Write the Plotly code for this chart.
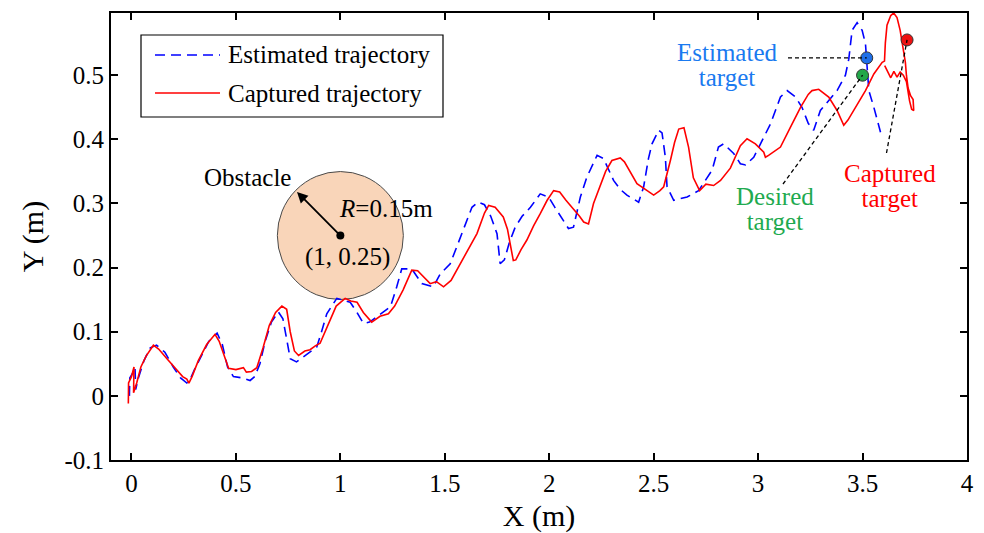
import plotly.graph_objects as go

# ---------------- data ----------------
cap_x = [-0.015, -0.014, 0.0, 0.012, 0.01, 0.025, 0.045, 0.07, 0.105, 0.13, 0.17, 0.21, 0.245, 0.265, 0.275,
         0.29, 0.32, 0.36, 0.40, 0.42, 0.445, 0.465, 0.50, 0.536, 0.55, 0.575, 0.60, 0.63, 0.66, 0.69, 0.72,
         0.743, 0.76, 0.78, 0.80, 0.83, 0.855, 0.88, 0.903, 0.94, 0.98, 1.023, 1.05, 1.08, 1.11, 1.15, 1.19,
         1.23, 1.26, 1.30, 1.342, 1.37, 1.40, 1.43, 1.46, 1.494, 1.53, 1.574, 1.614, 1.654, 1.69, 1.71, 1.741,
         1.78, 1.80, 1.815, 1.828, 1.84, 1.865, 1.893, 1.925, 1.957, 1.99, 2.021, 2.05, 2.08, 2.116, 2.145,
         2.165, 2.188, 2.212, 2.244, 2.27, 2.30, 2.34, 2.36, 2.388, 2.42, 2.46, 2.50, 2.53, 2.548, 2.58, 2.60,
         2.62, 2.645, 2.667, 2.69, 2.72, 2.75, 2.787, 2.82, 2.867, 2.915, 2.947, 2.987, 3.027, 3.035, 3.05,
         3.107, 3.155, 3.203, 3.24, 3.258, 3.29, 3.338, 3.378, 3.41, 3.43, 3.466, 3.514, 3.554, 3.594, 3.605,
         3.609, 3.617, 3.635, 3.649, 3.665, 3.68, 3.693, 3.705, 3.71, 3.718, 3.73, 3.742, 3.745, 3.735, 3.725,
         3.71, 3.695, 3.68, 3.665, 3.65, 3.635, 3.62, 3.606]
cap_y = [-0.012, 0.02, 0.03, 0.045, 0.005, 0.02, 0.045, 0.062, 0.079, 0.073, 0.058, 0.043, 0.03, 0.026, 0.02,
         0.03, 0.055, 0.08, 0.096, 0.085, 0.06, 0.043, 0.041, 0.044, 0.037, 0.038, 0.044, 0.075, 0.11, 0.13, 0.14,
         0.135, 0.10, 0.07, 0.063, 0.07, 0.072, 0.078, 0.082, 0.11, 0.14, 0.152, 0.148, 0.146, 0.13, 0.115, 0.124,
         0.128, 0.14, 0.165, 0.196, 0.195, 0.185, 0.175, 0.178, 0.17, 0.18, 0.206, 0.23, 0.253, 0.285, 0.297, 0.294,
         0.279, 0.26, 0.23, 0.211, 0.212, 0.228, 0.243, 0.265, 0.284, 0.305, 0.32, 0.318, 0.305, 0.292, 0.28,
         0.271, 0.268, 0.30, 0.328, 0.35, 0.367, 0.371, 0.365, 0.349, 0.331, 0.322, 0.313, 0.32, 0.326, 0.367, 0.395,
         0.416, 0.418, 0.388, 0.34, 0.32, 0.33, 0.328, 0.336, 0.355, 0.39, 0.401, 0.393, 0.38, 0.372, 0.375,
         0.388, 0.419, 0.45, 0.47, 0.476, 0.478, 0.466, 0.445, 0.422, 0.43, 0.45, 0.476, 0.502, 0.52, 0.522,
         0.55, 0.578, 0.593, 0.597, 0.59, 0.57, 0.545, 0.52, 0.50, 0.48, 0.468, 0.462, 0.445, 0.447, 0.46,
         0.49, 0.50, 0.505, 0.497, 0.506, 0.496, 0.506, 0.515]

est_x = [-0.01, -0.008, 0.005, 0.017, 0.02, 0.035, 0.06, 0.09, 0.12, 0.16, 0.20, 0.235, 0.265, 0.28, 0.30, 0.33,
         0.37, 0.41, 0.435, 0.46, 0.488, 0.53, 0.568, 0.59, 0.615, 0.64, 0.67, 0.703, 0.725, 0.745, 0.76, 0.79,
         0.83, 0.887, 0.91, 0.935, 0.983, 1.047, 1.08, 1.11, 1.14, 1.175, 1.24, 1.27, 1.294, 1.342, 1.39, 1.445,
         1.478, 1.526, 1.56, 1.59, 1.63, 1.66, 1.69, 1.72, 1.75, 1.765, 1.785, 1.81, 1.837, 1.87, 1.91, 1.957,
         1.997, 2.025, 2.053, 2.092, 2.116, 2.149, 2.18, 2.229, 2.26, 2.308, 2.34, 2.372, 2.428, 2.452, 2.475,
         2.492, 2.524, 2.54, 2.556, 2.564, 2.596, 2.66, 2.715, 2.78, 2.81, 2.835, 2.883, 2.915, 2.94, 2.979,
         3.019, 3.059, 3.107, 3.139, 3.179, 3.21, 3.24, 3.266, 3.298, 3.338, 3.378, 3.418, 3.434, 3.45, 3.474,
         3.498, 3.514, 3.522, 3.53, 3.554, 3.57, 3.586]
est_y = [0.0, 0.028, 0.035, 0.045, 0.01, 0.03, 0.055, 0.075, 0.079, 0.068, 0.045, 0.028, 0.02, 0.025, 0.04, 0.06,
         0.085, 0.098, 0.08, 0.045, 0.03, 0.028, 0.024, 0.03, 0.05, 0.085, 0.115, 0.131, 0.12, 0.085, 0.058, 0.053,
         0.062, 0.076, 0.10, 0.128, 0.152, 0.146, 0.13, 0.113, 0.115, 0.123, 0.139, 0.17, 0.198, 0.198, 0.175, 0.17,
         0.19, 0.206, 0.235, 0.263, 0.294, 0.302, 0.298, 0.28, 0.253, 0.206, 0.212, 0.24, 0.263, 0.28, 0.294, 0.315,
         0.31, 0.295, 0.281, 0.261, 0.263, 0.31, 0.341, 0.375, 0.37, 0.336, 0.322, 0.313, 0.302, 0.326, 0.37,
         0.393, 0.414, 0.41, 0.372, 0.326, 0.305, 0.31, 0.32, 0.352, 0.388, 0.393, 0.378, 0.362, 0.36, 0.372,
         0.398, 0.424, 0.466, 0.476, 0.466, 0.45, 0.425, 0.414, 0.445, 0.461, 0.476, 0.50, 0.525, 0.57, 0.582,
         0.57, 0.549, 0.512, 0.476, 0.45, 0.43, 0.411]

obstacle_center = (1.0, 0.25)
obstacle_label = "(1, 0.25)"
radius_label = "<i>R</i>=0.15m"

desired_target = (3.5, 0.5)
estimated_target = (3.52, 0.527)
captured_target = (3.713, 0.555)

x_ticks = [0, 0.5, 1, 1.5, 2, 2.5, 3, 3.5, 4]
x_ticktext = ["0", "0.5", "1", "1.5", "2", "2.5", "3", "3.5", "4"]
y_ticks = [-0.1, 0, 0.1, 0.2, 0.3, 0.4, 0.5]
y_ticktext = ["-0.1", "0", "0.1", "0.2", "0.3", "0.4", "0.5"]

# ---------------- layout geometry ----------------
W, H = 984, 533
ML, MR, MT, MB = 111, 17, 13, 73
PW, PH = W - ML - MR, H - MT - MB
XR = [-0.098, 4.0]
YR = [-0.1, 0.597]


def px2x(px):
    return XR[0] + (px - ML) / PW * (XR[1] - XR[0])


def py2y(py):
    return YR[1] - (py - MT) / PH * (YR[1] - YR[0])


def ppx(px):
    return (px - ML) / PW


def ppy(py):
    return 1 - (py - MT) / PH


FONT = "Liberation Serif"
BLUE = "#0000ff"
RED = "#ff0000"

fig = go.Figure()

# obstacle circle (round in screen pixels)
fig.add_shape(type="circle", xref="x", yref="y", xsizemode="pixel", ysizemode="pixel",
              xanchor=obstacle_center[0], yanchor=obstacle_center[1],
              x0=-63, x1=63, y0=-64, y1=64,
              fillcolor="#F9D5B9", line=dict(color="#4a4a4a", width=1), layer="below")

fig.add_trace(go.Scatter(x=est_x, y=est_y, mode="lines", name="Estimated trajectory",
                         line=dict(color=BLUE, width=1.6, dash="10px,6px")))
fig.add_trace(go.Scatter(x=cap_x, y=cap_y, mode="lines", name="Captured trajectory",
                         line=dict(color=RED, width=1.6)))

# dashed leader lines
lead = dict(color="black", width=1.3, dash="4px,3px")
fig.add_shape(type="line", x0=px2x(788), y0=estimated_target[1], x1=estimated_target[0], y1=estimated_target[1], line=lead)
fig.add_shape(type="line", x0=px2x(783), y0=py2y(184), x1=desired_target[0], y1=desired_target[1], line=lead)
fig.add_shape(type="line", x0=px2x(886.5), y0=py2y(153), x1=captured_target[0], y1=captured_target[1], line=lead)

# target markers
fig.add_trace(go.Scatter(x=[desired_target[0]], y=[desired_target[1]], mode="markers",
                         marker=dict(size=12, color="#22a84a", line=dict(color="#333333", width=1))))
fig.add_trace(go.Scatter(x=[estimated_target[0]], y=[estimated_target[1]], mode="markers",
                         marker=dict(size=12, color="#1f6fe8", line=dict(color="#333333", width=1))))
fig.add_trace(go.Scatter(x=[captured_target[0]], y=[captured_target[1]], mode="markers",
                         marker=dict(size=12, color="#ee1111", line=dict(color="#333333", width=1))))
# obstacle centre
fig.add_trace(go.Scatter(x=[obstacle_center[0]], y=[obstacle_center[1]], mode="markers",
                         marker=dict(size=8, color="black")))

ann = []


def txt(text, px, py, color="black", size=25, xanchor="center"):
    ann.append(dict(text=text, x=px2x(px), y=py2y(py), xref="x", yref="y", showarrow=False,
                    font=dict(family=FONT, size=size, color=color), xanchor=xanchor, yanchor="middle"))


def txt2(l1, l2, px, py, color):
    # two tightly spaced lines (line pitch ~25 px, glyphs 25 px)
    s = '<span style="font-size:25px">%s</span><br><span style="font-size:25px">%s</span>' % (l1, l2)
    txt(s, px, py, color, size=19)


txt2("Estimated", "target", 727, 64.5, "#1a7af0")
txt2("Desired", "target", 775, 208.5, "#1faa50")
txt2("Captured", "target", 890, 185.5, RED)
txt("Obstacle", 247, 177)
txt(radius_label, 337, 208, xanchor="left")
txt(obstacle_label, 347, 257)

# radius arrow
ann.append(dict(x=px2x(297), y=py2y(192), ax=obstacle_center[0], ay=obstacle_center[1],
                xref="x", yref="y", axref="x", ayref="y", showarrow=True, arrowhead=2,
                arrowsize=1.2, arrowwidth=1.8, arrowcolor="black", text=""))

# legend (drawn manually to match the reference box)
fig.add_shape(type="rect", xref="paper", yref="paper", x0=ppx(141), x1=ppx(443), y0=ppy(117), y1=ppy(35),
              line=dict(color="black", width=1.2), fillcolor="white", layer="below")
fig.add_shape(type="line", xref="paper", yref="paper", x0=ppx(155), x1=ppx(220), y0=ppy(55), y1=ppy(55),
              line=dict(color=BLUE, width=1.6, dash="10px,6px"))
fig.add_shape(type="line", xref="paper", yref="paper", x0=ppx(155), x1=ppx(220), y0=ppy(93), y1=ppy(93),
              line=dict(color=RED, width=1.6))
for label, py in [("Estimated trajectory", 55), ("Captured trajectory", 93)]:
    ann.append(dict(text=label, x=ppx(226), y=ppy(py), xref="paper", yref="paper", showarrow=False,
                    xanchor="left", yanchor="middle", font=dict(family=FONT, size=25, color="black")))

fig.update_layout(
    width=W, height=H, margin=dict(l=ML, r=MR, t=MT, b=MB),
    plot_bgcolor="white", paper_bgcolor="white", showlegend=False,
    font=dict(family=FONT, size=25, color="black"),
    annotations=ann,
    xaxis=dict(range=XR, tickvals=x_ticks, ticktext=x_ticktext, ticks="inside", ticklen=7, tickwidth=1.5,
               tickcolor="black", showline=True, linecolor="black", linewidth=2, mirror="ticks",
               showgrid=False, zeroline=False, tickfont=dict(size=25), automargin=False,
               title=dict(text="X (m)", font=dict(size=30), standoff=12)),
    yaxis=dict(range=YR, tickvals=y_ticks, ticktext=y_ticktext, ticks="inside", ticklen=7, tickwidth=1.5,
               tickcolor="black", showline=True, linecolor="black", linewidth=2, mirror="ticks",
               showgrid=False, zeroline=False, tickfont=dict(size=25), automargin=False,
               title=dict(text="Y (m)", font=dict(size=30), standoff=12)),
)

fig.write_html("out.html")
